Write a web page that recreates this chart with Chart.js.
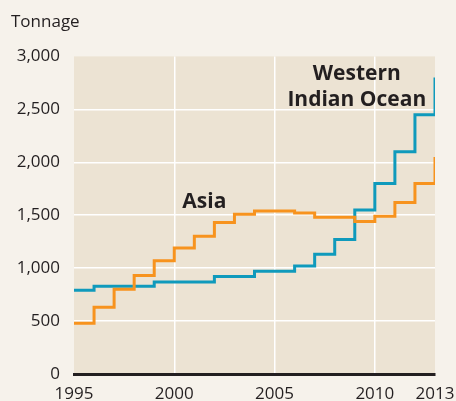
<!DOCTYPE html>
<html>
<head>
<meta charset="utf-8">
<script src="https://cdn.jsdelivr.net/npm/chart.js@4.4.1/dist/chart.umd.min.js"></script>
<style>
  html, body { margin: 0; padding: 0; background: #f6f2eb; }
  #wrap { width: 456px; height: 401px; }
</style>
</head>
<body>
<div id="wrap"><canvas id="tonnageChart" width="456" height="401"></canvas></div>
<script>
// años y toneladas
const years = [1995, 1996, 1997, 1998, 1999, 2000, 2001, 2002, 2003, 2004,
  2005, 2006, 2007, 2008, 2009, 2010, 2011, 2012, 2013];
const asia = [480, 630, 800, 930, 1070, 1190, 1300, 1430, 1510, 1540,
  1540, 1520, 1480, 1480, 1440, 1490, 1620, 1800, 2050];
const westernIndianOcean = [790, 830, 830, 830, 870, 870, 870, 920, 920, 970,
  970, 1020, 1130, 1270, 1550, 1800, 2100, 2450, 2800];
const xTicks = [1995, 2000, 2005, 2010, 2013];
const seriesNames = ["Asia", "Western\nIndian Ocean"];
// posición de las etiquetas, en unidades de datos
const labelAnchors = [
  { x: 2001.5, y: 1570 },
  { x: 2009.1, y: 2780 },
];

const ink = "#231f20";
const fontFamily = "'Open Sans', 'Noto Sans', sans-serif";

// Fondo del área de la gráfica
const plotBackground = {
  id: "plotBackground",
  beforeDraw(chart) {
    const { ctx, chartArea: a } = chart;
    ctx.save();
    ctx.fillStyle = "#ece3d3";
    ctx.fillRect(a.left, a.top, a.right - a.left, a.bottom - a.top);
    ctx.restore();
  },
};

// Etiquetas de las series
const seriesLabels = {
  id: "seriesLabels",
  afterDatasetsDraw(chart) {
    const { ctx, scales } = chart;
    ctx.save();
    ctx.fillStyle = ink;
    ctx.font = "bold 21px " + fontFamily;
    ctx.textAlign = "center";
    ctx.textBaseline = "alphabetic";
    seriesNames.forEach((name, i) => {
      const px = scales.x.getPixelForValue(labelAnchors[i].x);
      const py = scales.y.getPixelForValue(labelAnchors[i].y);
      name.split("\n").forEach((line, j) => {
        ctx.fillText(line, px, py + j * 26);
      });
    });
    ctx.restore();
  },
};

const toPoints = (values) => values.map((v, i) => ({ x: years[i], y: v }));

const ctx = document.getElementById("tonnageChart").getContext("2d");
const chart = new Chart(ctx, {
  type: "line",
  data: {
    datasets: [
      {
        label: "Asia",
        data: toPoints(asia),
        borderColor: "#f7931e",
        borderWidth: 3,
        stepped: "before",
        pointRadius: 0,
        fill: false,
      },
      {
        label: "Western Indian Ocean",
        data: toPoints(westernIndianOcean),
        borderColor: "#0f9abc",
        borderWidth: 3,
        stepped: "before",
        pointRadius: 0,
        fill: false,
      },
    ],
  },
  options: {
    responsive: false,
    animation: false,
    layout: { padding: { left: 11, right: 21, top: 4, bottom: 0 } },
    plugins: {
      legend: { display: false },
      tooltip: { enabled: false },
      title: {
        display: true,
        text: "Tonnage",
        align: "start",
        color: ink,
        font: { family: fontFamily, size: 17, weight: "normal" },
        padding: { top: 8, bottom: 24 },
      },
    },
    scales: {
      x: {
        type: "linear",
        min: 1995,
        max: 2013,
        afterBuildTicks(axis) {
          axis.ticks = xTicks.map((v) => ({ value: v }));
        },
        afterFit(scale) {
          // las etiquetas de los extremos pueden salirse del área
          scale.paddingLeft = 0;
          scale.paddingRight = 0;
          scale.height = 27;
        },
        grid: {
          color: (c) =>
            c.tick && (c.tick.value === 1995 || c.tick.value === 2013)
              ? "rgba(0,0,0,0)"
              : "#ffffff",
          lineWidth: 1.5,
          drawTicks: false,
        },
        border: { display: true, color: ink, width: 3 },
        ticks: {
          color: ink,
          font: { family: fontFamily, size: 17 },
          padding: 10,
          maxRotation: 0,
          autoSkip: false,
          callback: (v) => String(v),
        },
      },
      y: {
        min: 0,
        max: 3000,
        afterFit(scale) {
          scale.width = 63;
        },
        ticks: {
          stepSize: 500,
          color: ink,
          font: { family: fontFamily, size: 17 },
          padding: 14,
          callback: (v) => v.toLocaleString("en-US"),
        },
        grid: {
          color: (c) =>
            c.tick && (c.tick.value === 0 || c.tick.value === 3000)
              ? "rgba(0,0,0,0)"
              : "#ffffff",
          lineWidth: 1.5,
          drawTicks: false,
        },
        border: { display: false },
      },
    },
  },
  plugins: [plotBackground, seriesLabels],
});
</script>
</body>
</html>
